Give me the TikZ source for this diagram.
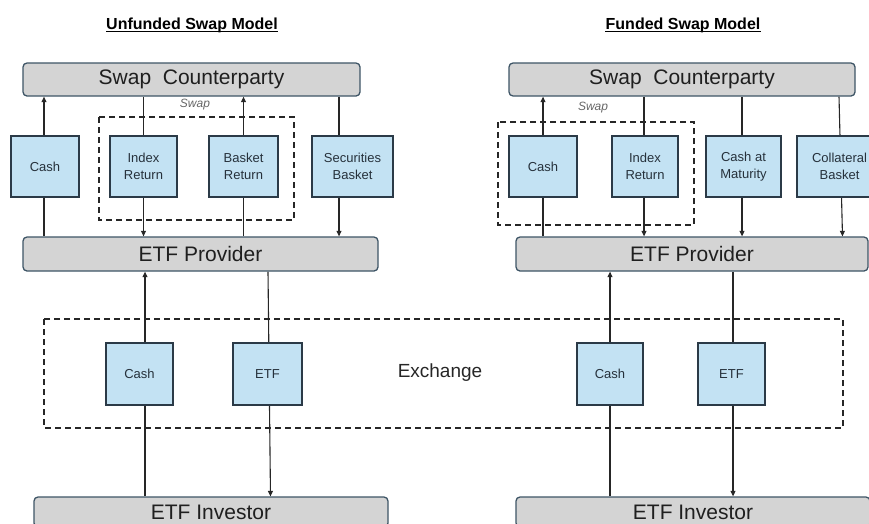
\documentclass[tikz,border=0pt]{standalone}
\usepackage{fontspec}
\setmainfont{Liberation Sans}
\usetikzlibrary{arrows.meta,backgrounds,calc}

\definecolor{boxblue}{HTML}{C3E2F3}
\definecolor{boxedge}{HTML}{2B3A47}
\definecolor{panelgray}{HTML}{D4D4D4}
\definecolor{paneledge}{HTML}{3E5566}
\definecolor{labeltext}{HTML}{26313B}

\tikzset{
  party/.style={draw=paneledge, fill=panelgray, line width=1.3pt, rounded corners=4pt,
    inner sep=0pt, font=\fontsize{21}{24}\selectfont, text=black!88},
  flowbox/.style={draw=boxedge, fill=boxblue, line width=1.2pt, inner sep=0pt,
    align=center, font=\fontsize{13}{16.5}\selectfont, text=labeltext},
  flow/.style={line width=1.1pt, draw=black!85, -{Triangle[length=5.5pt,width=5pt]}},
  group/.style={draw=black!85, line width=1.3pt, dash pattern=on 6pt off 4pt},
  heading/.style={font=\fontsize{16}{19}\selectfont\bfseries, inner sep=0pt},
  swaptag/.style={font=\fontsize{12}{14}\selectfont\itshape, text=black!60, inner sep=0pt},
}

\begin{document}
\begin{tikzpicture}[x=1pt, y=-1pt]
\useasboundingbox (0,0) rectangle (869,523);
\clip (0,0) rectangle (869,523);

% ---------- headings ----------
\node[heading] (tL) at (192,25) {Unfunded Swap Model};
\node[heading] (tR) at (683,25) {Funded Swap Model};
\draw[line width=1.4pt] ($(tL.base west)+(0,2.6)$) -- ($(tL.base east)+(0,2.6)$);
\draw[line width=1.4pt] ($(tR.base west)+(0,2.6)$) -- ($(tR.base east)+(0,2.6)$);

% ---------- parties ----------
\node[party, minimum width=337pt, minimum height=33pt] (scL) at (191.5,79.5) {Swap\ \ Counterparty};
\node[party, minimum width=355pt, minimum height=34pt] (epL) at (200.5,254) {ETF Provider};
\node[party, minimum width=354pt, minimum height=30pt] (eiL) at (211,512) {ETF Investor};

\node[party, minimum width=346pt, minimum height=33pt] (scR) at (682,79.5) {Swap\ \ Counterparty};
\node[party, minimum width=352pt, minimum height=34pt] (epR) at (692,254) {ETF Provider};
\node[party, minimum width=354pt, minimum height=30pt] (eiR) at (693,512) {ETF Investor};

% ---------- flows, unfunded model ----------
\node[flowbox, minimum width=68pt, minimum height=61pt] (cashA) at (45,166.5) {Cash};
\node[flowbox, minimum width=67pt, minimum height=61pt] (idxA) at (143.5,166.5) {Index\\Return};
\node[flowbox, minimum width=69pt, minimum height=61pt] (bskA) at (243.5,166.5) {Basket\\Return};
\node[flowbox, minimum width=81pt, minimum height=61pt] (secA) at (352.5,166.5) {Securities\\Basket};

\node[flowbox, minimum width=67pt, minimum height=62pt] (cashC) at (139.5,374) {Cash};
\node[flowbox, minimum width=69pt, minimum height=62pt] (etfC) at (267.5,374) {ETF};

% ---------- flows, funded model ----------
\node[flowbox, minimum width=68pt, minimum height=61pt] (cashB) at (543,166.5) {Cash};
\node[flowbox, minimum width=66pt, minimum height=61pt] (idxB) at (645,166.5) {Index\\Return};
\node[flowbox, minimum width=75pt, minimum height=61pt] (matB) at (743.5,166.5) {Cash at\\Maturity};
\node[flowbox, minimum width=85pt, minimum height=61pt] (colB) at (839.5,166.5) {Collateral\\Basket};

\node[flowbox, minimum width=66pt, minimum height=62pt] (cashD) at (610,374) {Cash};
\node[flowbox, minimum width=67pt, minimum height=62pt] (etfD) at (731.5,374) {ETF};

% ---------- groupings ----------
\draw[group] (99,117) rectangle (294,220);
\node[swaptag] (swL) at (195,105) {Swap};
\draw[group] (498,122) rectangle (694,225);
\node[swaptag] (swR) at (593,108) {Swap};

\draw[group] (44,319) rectangle (843,428);
\node[font=\fontsize{19}{22}\selectfont, text=black!85, inner sep=0pt] (exch) at (440,373) {Exchange};

% ---------- connectors (behind the boxes) ----------
\begin{scope}[on background layer]
  % unfunded, upper
  \draw[flow] ([xshift=-1pt]cashA.center |- epL.north) -- ([xshift=-1pt]cashA.center |- scL.south);
  \draw[flow] (idxA.center |- scL.south) -- (idxA.center |- epL.north);
  \draw[flow] (bskA.center |- epL.north) -- (bskA.center |- scL.south);
  \draw[flow] ([xshift=-13.5pt]secA.center |- scL.south) -- ([xshift=-13.5pt]secA.center |- epL.north);
  % unfunded, lower
  \draw[flow] ([xshift=5.5pt]cashC.center |- eiL.north) -- ([xshift=5.5pt]cashC.center |- epL.south);
  \draw[flow] ([xshift=0.5pt]etfC.center |- epL.south) -- ([xshift=3pt]etfC.center |- eiL.north);
  % funded, upper
  \draw[flow] (cashB.center |- epR.north) -- (cashB.center |- scR.south);
  \draw[flow] ([xshift=-1pt]idxB.center |- scR.south) -- ([xshift=-1pt]idxB.center |- epR.north);
  \draw[flow] ([xshift=-1.5pt]matB.center |- scR.south) -- ([xshift=-1.5pt]matB.center |- epR.north);
  \draw[flow] ([xshift=-0.5pt]colB.center |- scR.south) -- ([xshift=3pt]colB.center |- epR.north);
  % funded, lower
  \draw[flow] (cashD.center |- eiR.north) -- (cashD.center |- epR.south);
  \draw[flow] ([xshift=1.5pt]etfD.center |- epR.south) -- ([xshift=1.5pt]etfD.center |- eiR.north);
\end{scope}
\end{tikzpicture}
\end{document}
